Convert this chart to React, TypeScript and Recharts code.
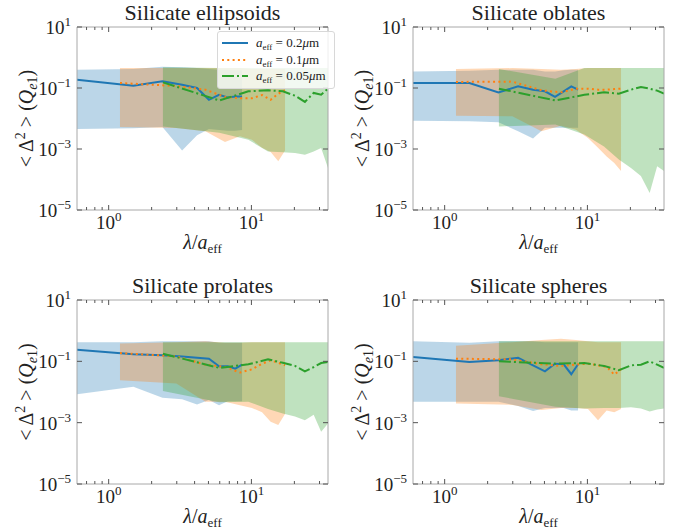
import React from 'react';
import { ComposedChart, Area, Line, XAxis, YAxis, Legend } from 'recharts';

const FONT = '"Liberation Serif", "Times New Roman", serif';
const FRAME = '#a8a8a8';
const TICK = '#555';
const INK = '#222';

// lambda / a_eff sample points for each grain size
const xBlue = [0.6, 1.49, 2.38, 3.27, 4.16, 5.04, 5.93, 6.82, 7.71, 8.6];
const xOrange = [1.2, 2.98, 4.76, 6.53, 8.31, 10.09, 11.87, 13.64, 15.42, 17.2];
const xGreen = [2.4, 5.96, 9.52, 13.07, 16.6, 20.2, 23.7, 27.3, 30.8, 34.4];

const xTicks = [0.7, 0.8, 0.9, 1, 2, 3, 4, 5, 6, 7, 8, 9, 10, 20, 30];
const yTicks = [1e-5, 1e-3, 1e-1, 10];

const titles = ['Silicate ellipsoids', 'Silicate oblates', 'Silicate prolates', 'Silicate spheres'];
const sizes = ['0.2', '0.1', '0.05'];
const colors = ['#1f77b4', '#ff7f0e', '#2ca02c'];
const dashes = ['', '2 3.3', '12 3 2 3'];

// ellipsoids
const ellBlue = [0.187, 0.119, 0.166, 0.128, 0.1, 0.041, 0.06, 0.049, 0.053, 0.053];
const ellBlueHi = [0.4, 0.42, 0.5, 0.48, 0.45, 0.42, 0.4, 0.4, 0.38, 0.38];
const ellBlueLo = [0.0045, 0.0048, 0.0053, 0.0009, 0.0028, 0.0045, 0.0042, 0.004, 0.004, 0.0042];
const ellOrange = [0.146, 0.116, 0.088, 0.051, 0.046, 0.046, 0.059, 0.041, 0.065, 0.084];
const ellOrangeHi = [0.45, 0.45, 0.45, 0.45, 0.45, 0.42, 0.42, 0.42, 0.42, 0.42];
const ellOrangeLo = [0.0053, 0.0049, 0.0038, 0.0017, 0.0026, 0.002, 0.0011, 0.0008, 0.0004, 0.0009];
const ellGreen = [0.153, 0.039, 0.078, 0.084, 0.078, 0.056, 0.035, 0.069, 0.06, 0.095];
const ellGreenHi = [0.48, 0.45, 0.45, 0.45, 0.45, 0.45, 0.45, 0.45, 0.45, 0.45];
const ellGreenLo = [0.0055, 0.0034, 0.002, 0.00083, 0.00078, 0.00074, 0.00065, 0.00083, 0.00107, 0.00024];

// oblates
const oblBlue = [0.146, 0.146, 0.072, 0.113, 0.088, 0.078, 0.051, 0.078, 0.113, 0.088];
const oblBlueHi = [0.35, 0.37, 0.4, 0.4, 0.4, 0.35, 0.35, 0.38, 0.4, 0.4];
const oblBlueLo = [0.0085, 0.0082, 0.0075, 0.0038, 0.0022, 0.005, 0.005, 0.005, 0.005, 0.005];
const oblOrange = [0.158, 0.162, 0.084, 0.072, 0.095, 0.095, 0.088, 0.088, 0.092, 0.095];
const oblOrangeHi = [0.42, 0.45, 0.42, 0.4, 0.42, 0.45, 0.45, 0.45, 0.45, 0.45];
const oblOrangeLo = [0.0124, 0.0118, 0.0038, 0.0058, 0.0043, 0.0023, 0.0011, 0.00057, 0.00035, 0.00019];
const oblGreen = [0.095, 0.039, 0.06, 0.072, 0.065, 0.088, 0.108, 0.095, 0.082, 0.065];
const oblGreenHi = [0.42, 0.2, 0.45, 0.45, 0.45, 0.45, 0.45, 0.45, 0.45, 0.45];
const oblGreenLo = [0.0055, 0.0063, 0.003, 0.0012, 0.00045, 0.00024, 0.00013, 0.000036, 0.00027, 0.00019];

// prolates
const proBlue = [0.239, 0.17, 0.157, 0.145, 0.131, 0.122, 0.069, 0.069, 0.058, 0.078];
const proBlueHi = [0.42, 0.42, 0.45, 0.45, 0.45, 0.45, 0.4, 0.4, 0.4, 0.4];
const proBlueLo = [0.0085, 0.0147, 0.0065, 0.0058, 0.0039, 0.0055, 0.0037, 0.005, 0.005, 0.005];
const proOrange = [0.186, 0.145, 0.078, 0.066, 0.043, 0.055, 0.084, 0.107, 0.09, 0.074];
const proOrangeHi = [0.38, 0.42, 0.45, 0.4, 0.4, 0.42, 0.42, 0.42, 0.42, 0.42];
const proOrangeLo = [0.024, 0.019, 0.0048, 0.0048, 0.0037, 0.003, 0.0022, 0.00107, 0.00084, 0.0019];
const proGreen = [0.177, 0.061, 0.08, 0.116, 0.09, 0.071, 0.047, 0.065, 0.088, 0.095];
const proGreenHi = [0.42, 0.42, 0.42, 0.42, 0.42, 0.42, 0.42, 0.42, 0.42, 0.42];
const proGreenLo = [0.0107, 0.0046, 0.0048, 0.0028, 0.002, 0.0016, 0.0012, 0.0018, 0.00051, 0.00094];

// spheres
const sphBlue = [0.138, 0.095, 0.108, 0.131, 0.074, 0.047, 0.084, 0.08, 0.038, 0.08];
const sphBlueHi = [0.45, 0.4, 0.45, 0.45, 0.45, 0.42, 0.42, 0.42, 0.42, 0.42];
const sphBlueLo = [0.0048, 0.0048, 0.0048, 0.0035, 0.0024, 0.003, 0.003, 0.003, 0.0025, 0.0025];
const sphOrange = [0.122, 0.116, 0.08, 0.07, 0.078, 0.084, 0.074, 0.066, 0.037, 0.055];
const sphOrangeHi = [0.32, 0.42, 0.5, 0.55, 0.5, 0.45, 0.42, 0.42, 0.42, 0.42];
const sphOrangeLo = [0.0042, 0.0038, 0.0026, 0.003, 0.003, 0.0028, 0.0012, 0.0025, 0.0022, 0.0028];
const sphGreen = [0.1, 0.084, 0.088, 0.071, 0.051, 0.074, 0.078, 0.1, 0.078, 0.061];
const sphGreenHi = [0.45, 0.45, 0.45, 0.45, 0.45, 0.45, 0.45, 0.45, 0.45, 0.45];
const sphGreenLo = [0.0073, 0.0033, 0.0029, 0.003, 0.003, 0.0032, 0.0029, 0.0023, 0.0027, 0.0029];

const build = (xs: number[], mean: number[], lo: number[], hi: number[]) =>
  xs.map((x, i) => ({ x, mean: mean[i], lo: lo[i], hi: hi[i] }));

const panelData = [
  [
    build(xBlue, ellBlue, ellBlueLo, ellBlueHi),
    build(xOrange, ellOrange, ellOrangeLo, ellOrangeHi),
    build(xGreen, ellGreen, ellGreenLo, ellGreenHi),
  ],
  [
    build(xBlue, oblBlue, oblBlueLo, oblBlueHi),
    build(xOrange, oblOrange, oblOrangeLo, oblOrangeHi),
    build(xGreen, oblGreen, oblGreenLo, oblGreenHi),
  ],
  [
    build(xBlue, proBlue, proBlueLo, proBlueHi),
    build(xOrange, proOrange, proOrangeLo, proOrangeHi),
    build(xGreen, proGreen, proGreenLo, proGreenHi),
  ],
  [
    build(xBlue, sphBlue, sphBlueLo, sphBlueHi),
    build(xOrange, sphOrange, sphOrangeLo, sphOrangeHi),
    build(xGreen, sphGreen, sphGreenLo, sphGreenHi),
  ],
];

// left, top, height, margins for each panel
const layout = [
  { left: 0, top: 0, height: 265, margin: { top: 26, right: 18, bottom: 15, left: 20 } },
  { left: 347, top: 0, height: 265, margin: { top: 26, right: 29, bottom: 15, left: 9 } },
  { left: 0, top: 265, height: 266, margin: { top: 34, right: 18, bottom: 7, left: 20 } },
  { left: 347, top: 265, height: 266, margin: { top: 34, right: 29, bottom: 7, left: 9 } },
];

const expOf = (v: number) => Math.round(Math.log10(v));
const isMajor = (v: number) => Math.abs(Math.log10(v) - expOf(v)) < 1e-9;
const expText = (v: number) => {
  const e = expOf(v);
  return e < 0 ? '\u2212' + Math.abs(e) : String(e);
};

const Pow = ({ v }: { v: number }) => (
  <>
    <tspan>10</tspan>
    <tspan dy={-8} fontSize={13}>{expText(v)}</tspan>
  </>
);

const XTickBottom = (props: any) => {
  const { x, y, payload } = props;
  const major = isMajor(payload.value);
  return (
    <g>
      <line x1={x} x2={x} y1={y} y2={y - (major ? 5 : 3)} stroke={TICK} strokeWidth={1} />
      {major && (
        <text x={x} y={y + 19} textAnchor="middle" fontFamily={FONT} fontSize={19} fill={INK}>
          <Pow v={payload.value} />
        </text>
      )}
    </g>
  );
};

const XTickTop = (props: any) => {
  const { x, y, payload } = props;
  const major = isMajor(payload.value);
  return <line x1={x} x2={x} y1={y} y2={y + (major ? 5 : 3)} stroke={TICK} strokeWidth={1} />;
};

const YTickLeft = (props: any) => {
  const { x, y, payload } = props;
  return (
    <g>
      <line x1={x} x2={x + 5} y1={y} y2={y} stroke={TICK} strokeWidth={1} />
      <text x={x - 6} y={y + 7} textAnchor="end" fontFamily={FONT} fontSize={19} fill={INK}>
        <Pow v={payload.value} />
      </text>
    </g>
  );
};

const YTickRight = (props: any) => {
  const { x, y } = props;
  return <line x1={x} x2={x - 5} y1={y} y2={y} stroke={TICK} strokeWidth={1} />;
};

const PanelTitle = (props: any) => {
  const vb = props.viewBox || {};
  return (
    <text x={vb.x + vb.width / 2} y={vb.y + vb.height - 7} textAnchor="middle" fontFamily={FONT} fontSize={22} fill={INK}>
      {props.text}
    </text>
  );
};

const XTitle = (props: any) => {
  const vb = props.viewBox || {};
  return (
    <text x={vb.x + vb.width / 2} y={vb.y + 39} textAnchor="middle" fontFamily={FONT} fontSize={20} fill={INK}>
      <tspan fontStyle="italic">λ</tspan>
      <tspan>/</tspan>
      <tspan fontStyle="italic">a</tspan>
      <tspan dy={4} fontSize={13}>eff</tspan>
    </text>
  );
};

const YTitle = (props: any) => {
  const vb = props.viewBox || {};
  const cx = vb.x + vb.width - 51;
  const cy = vb.y + vb.height / 2;
  return (
    <text
      x={cx}
      y={cy + 7}
      transform={`rotate(-90 ${cx} ${cy})`}
      textAnchor="middle"
      fontFamily={FONT}
      fontSize={20}
      fill={INK}
    >
      <tspan>{'< Δ'}</tspan>
      <tspan dy={-8} fontSize={14}>2</tspan>
      <tspan dy={8}>{' > ('}</tspan>
      <tspan fontStyle="italic">Q</tspan>
      <tspan dy={4} fontSize={14} fontStyle="italic">e</tspan>
      <tspan fontSize={14}>1</tspan>
      <tspan dy={-4}>)</tspan>
    </text>
  );
};

const LegendBox = () => (
  <div
    style={{
      border: '1px solid #d8d8d8',
      borderRadius: 3,
      background: 'rgba(255,255,255,0.8)',
      padding: '3px 8px 3px 4px',
      fontFamily: FONT,
      fontSize: 13,
      color: INK,
    }}
  >
    {sizes.map((s, i) => (
      <div key={s} style={{ display: 'flex', alignItems: 'center', height: 16.5, whiteSpace: 'nowrap' }}>
        <svg width={26} height={8}>
          <line x1={0} x2={26} y1={4} y2={4} stroke={colors[i]} strokeWidth={2} strokeDasharray={dashes[i] || undefined} />
        </svg>
        <span style={{ marginLeft: 8 }}>
          <i>a</i>
          <span style={{ fontSize: 9, position: 'relative', top: 3 }}>eff</span> = {s}
          <i>μ</i>m
        </span>
      </div>
    ))}
  </div>
);

const Panel = ({ idx }: { idx: number }) => {
  const lay = layout[idx];
  const series = panelData[idx];
  return (
    <div style={{ position: 'absolute', left: lay.left, top: lay.top }}>
      <ComposedChart width={347} height={lay.height} margin={lay.margin}>
        <XAxis
          xAxisId="top"
          orientation="top"
          type="number"
          dataKey="x"
          scale="log"
          domain={[0.6, 34.4]}
          allowDataOverflow
          ticks={xTicks}
          interval={0}
          height={1}
          tickSize={0}
          tickMargin={0}
          tickLine={false}
          axisLine={{ stroke: FRAME }}
          tick={<XTickTop />}
          label={<PanelTitle text={titles[idx]} />}
        />
        <XAxis
          type="number"
          dataKey="x"
          scale="log"
          domain={[0.6, 34.4]}
          allowDataOverflow
          ticks={xTicks}
          interval={0}
          height={40}
          tickSize={0}
          tickMargin={0}
          tickLine={false}
          axisLine={{ stroke: FRAME }}
          tick={<XTickBottom />}
          label={<XTitle />}
        />
        <YAxis
          type="number"
          scale="log"
          domain={[1e-5, 10]}
          allowDataOverflow
          ticks={yTicks}
          interval={0}
          width={57}
          tickSize={0}
          tickMargin={0}
          tickLine={false}
          axisLine={{ stroke: FRAME }}
          tick={<YTickLeft />}
          label={<YTitle />}
        />
        <YAxis
          yAxisId="right"
          orientation="right"
          type="number"
          scale="log"
          domain={[1e-5, 10]}
          allowDataOverflow
          ticks={yTicks}
          interval={0}
          width={1}
          tickSize={0}
          tickMargin={0}
          tickLine={false}
          axisLine={{ stroke: FRAME }}
          tick={<YTickRight />}
        />
        {series.map((d, i) => (
          <Area
            key={'band' + i}
            data={d}
            dataKey={(p: any) => [p.lo, p.hi]}
            type="linear"
            stroke="none"
            fill={colors[i]}
            fillOpacity={0.3}
            legendType="none"
            isAnimationActive={false}
          />
        ))}
        {series.map((d, i) => (
          <Line
            key={'line' + i}
            data={d}
            dataKey="mean"
            name={sizes[i]}
            type="linear"
            stroke={colors[i]}
            strokeWidth={2}
            strokeDasharray={dashes[i] || undefined}
            dot={false}
            activeDot={false}
            isAnimationActive={false}
          />
        ))}
        {idx === 0 && (
          <Legend
            layout="vertical"
            align="center"
            verticalAlign="middle"
            wrapperStyle={{ position: 'absolute', left: 217, top: 31, width: 'auto', height: 'auto' }}
            content={() => <LegendBox />}
          />
        )}
      </ComposedChart>
    </div>
  );
};

export default function App() {
  return (
    <div style={{ position: 'absolute', left: 0, top: 0, width: 694, height: 531, background: '#fff' }}>
      {[0, 1, 2, 3].map((i) => (
        <Panel key={i} idx={i} />
      ))}
    </div>
  );
}
